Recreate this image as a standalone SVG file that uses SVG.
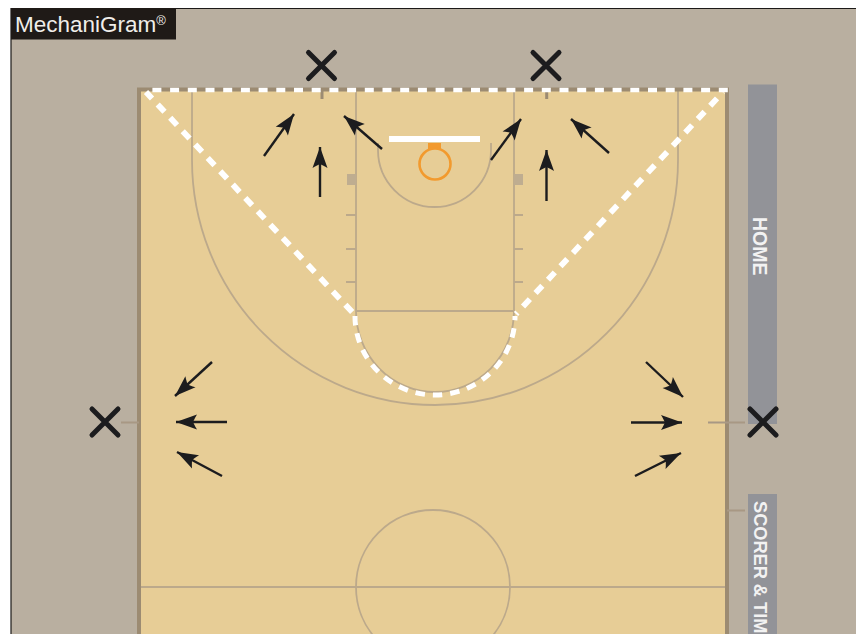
<svg xmlns="http://www.w3.org/2000/svg" width="856" height="634" viewBox="0 0 856 634">
<defs>
<marker id="head" markerUnits="userSpaceOnUse" markerWidth="24" markerHeight="18" refX="23" refY="9" orient="auto" viewBox="0 0 24 18"><path d="M23,9 L2,1.500 L3.500,4 L6,9 L3.500,14 L2,16.500 Z" fill="#1c1c1e"/></marker>
</defs>
<style>
.line{fill:none;stroke:#bca98b;stroke-width:1.800}
.thick{fill:none;stroke:#9c8b72;stroke-width:4}
.tick{fill:none;stroke:#a89884;stroke-width:2}
.post{fill:none;stroke:#9c8b72;stroke-width:3}
.arrow{fill:none;stroke:#1c1c1e;stroke-width:2.400;marker-end:url(#head)}
.cross{fill:none;stroke:#1c1c1e;stroke-width:5;stroke-linecap:round}
.dash{fill:none;stroke:#fff}
.bar{fill:#929398}
.label{font-family:"Liberation Sans",Arial,sans-serif;font-weight:bold;font-size:19.500px;fill:#f2f2f2}
</style>
<rect width="856" height="634" fill="#fff"/>
<rect x="11" y="8" width="845" height="626" fill="#b9afa0"/>
<path d="M11,634 V8.500 H856" fill="none" stroke="#1c1a18" stroke-width="1.200"/>
<g id="court">
<rect x="139" y="88" width="588" height="546" fill="#e7cd96"/>
<path class="line" d="M192,88 V160 A243,245 0 0 0 678,160 V88"/>
<path class="line" d="M356,88 V311 M514,88 V311 M356,311 H514"/>
<path class="line" d="M356,311 A79,81 0 0 0 514,311"/>
<path class="line" d="M378,143 V150 A56.500,57 0 0 0 491,150 V143"/>
<path class="line" d="M139,587 H727"/>
<circle class="line" cx="433" cy="587" r="77"/>
<path class="line" d="M346,215 H356 M346,249 H356 M346,282 H356 M514,215 H523 M514,249 H523 M514,282 H523"/>
<rect x="347" y="174" width="9" height="11" fill="#bfad90"/>
<rect x="514" y="174" width="9" height="11" fill="#bfad90"/>
<path class="thick" d="M139,634 V89.500 H727 V634"/>
<path class="post" d="M322,89 V99 M546.700,89 V99"/>
<path class="tick" d="M121,422.500 H139 M708,422.500 H745 M727,510.500 H745"/>
</g>
<g id="basket">
<rect x="389" y="136" width="91" height="6" fill="#fff"/>
<rect x="428" y="143" width="13" height="6" fill="#f29a2e"/>
<circle cx="435" cy="164" r="15.500" fill="none" stroke="#f29a2e" stroke-width="2.600"/>
</g>
<g id="home-bar">
<rect class="bar" x="748" y="84.500" width="29" height="339.500"/>
<text class="label" transform="translate(753,217) rotate(90)">HOME</text>
</g>
<g id="scorer-bar">
<rect class="bar" x="748" y="494" width="29" height="140"/>
<text class="label" style="font-size:18.200px" transform="translate(753.500,501) rotate(90)">SCORER &amp; TIM</text>
</g>
<g id="logo">
<rect x="11" y="8" width="165" height="31.500" fill="#1f1a17"/>
<text x="15" y="32" font-family="'Liberation Sans',Arial,sans-serif" font-size="22.500" fill="#f0eeea">MechaniGram<tspan font-size="13" dy="-7">®</tspan></text>
</g>
<g id="coverage-zone">
<path class="dash" stroke-width="4.500" stroke-dasharray="9 8.700" d="M152.400,90 H728"/>
<path class="dash" stroke-width="5.800" stroke-dasharray="10 8.300" stroke-dashoffset="1.200" d="M146,92 L354,314"/>
<path class="dash" stroke-width="5.800" stroke-dasharray="10 8.300" stroke-dashoffset="9.600" d="M723,92 L516,314"/>
<path class="dash" stroke-width="5" stroke-dasharray="9.500 8" d="M355,316 A80,79 0 0 0 515,316"/>
</g>
<g id="official-top-left"><path class="cross" d="M308.500,52.500 L334.500,78.500 M334.500,52.500 L308.500,78.500"/></g>
<g id="official-top-right"><path class="cross" d="M533,52.500 L559,78.500 M559,52.500 L533,78.500"/></g>
<g id="official-left"><path class="cross" d="M92,409 L118,435 M118,409 L92,435"/></g>
<g id="official-right"><path class="cross" d="M750,409 L776,435 M776,409 L750,435"/></g>
<g id="connectors">
<path class="arrow" d="M264,156 L294,114"/>
<path class="arrow" d="M320,197 L320,147"/>
<path class="arrow" d="M382,149 L344,116"/>
<path class="arrow" d="M491,160 L521,119"/>
<path class="arrow" d="M546.500,201 L546.500,150"/>
<path class="arrow" d="M609,153 L571,119"/>
<path class="arrow" d="M212,362 L175,396"/>
<path class="arrow" d="M227,422 L176,422"/>
<path class="arrow" d="M222,476 L177,452"/>
<path class="arrow" d="M646,362 L683,397"/>
<path class="arrow" d="M631,422.500 L682,422.500"/>
<path class="arrow" d="M635,476 L681,453"/>
</g>
</svg>
